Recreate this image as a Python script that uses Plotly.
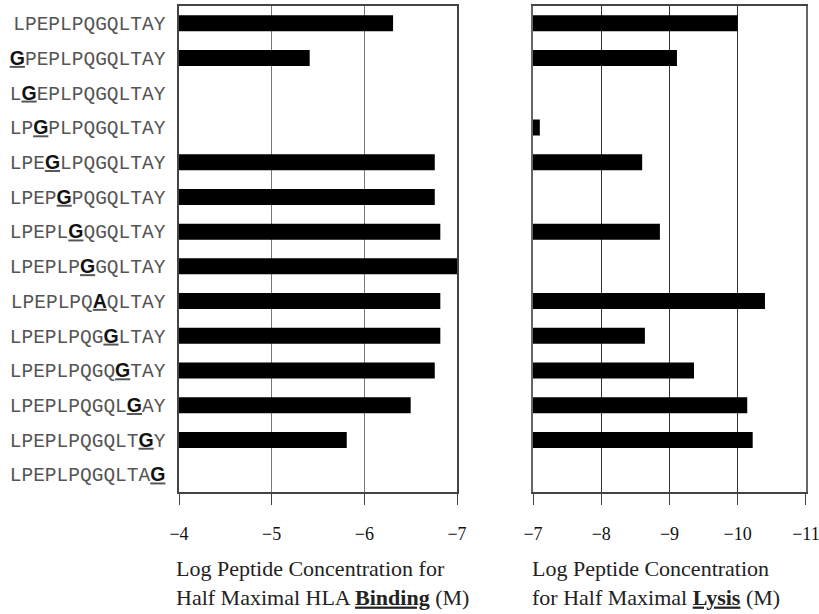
import plotly.graph_objects as go

def mut(prefix, letter, suffix):
    return (prefix + "<b><u><span style='font-family:Liberation Sans;color:#111'>"
            + letter + "</span></u></b>" + suffix)

peptides = [
    "LPEPLPQGQLTAY",
    mut("", "G", "PEPLPQGQLTAY"),
    mut("L", "G", "EPLPQGQLTAY"),
    mut("LP", "G", "PLPQGQLTAY"),
    mut("LPE", "G", "LPQGQLTAY"),
    mut("LPEP", "G", "PQGQLTAY"),
    mut("LPEPL", "G", "QGQLTAY"),
    mut("LPEPLP", "G", "GQLTAY"),
    mut("LPEPLPQ", "A", "QLTAY"),
    mut("LPEPLPQG", "G", "LTAY"),
    mut("LPEPLPQGQ", "G", "TAY"),
    mut("LPEPLPQGQL", "G", "AY"),
    mut("LPEPLPQGQLT", "G", "Y"),
    mut("LPEPLPQGQLTA", "G", ""),
]

binding_log = [-6.31, -5.41, None, None, -6.76, -6.76, -6.82, -7.0,
               -6.82, -6.82, -6.76, -6.50, -5.81, None]
lysis_log = [-10.0, -9.11, None, -7.10, -8.60, None, -8.86, None,
             -10.40, -8.64, -9.36, -10.14, -10.22, None]

binding_ticks = [-4, -5, -6, -7]
lysis_ticks = [-7, -8, -9, -10, -11]

fig = go.Figure()
fig.add_trace(go.Bar(y=peptides, x=binding_log, orientation="h",
                     marker=dict(color="black", line=dict(width=0)),
                     width=0.46, xaxis="x", yaxis="y", showlegend=False))
fig.add_trace(go.Bar(y=peptides, x=lysis_log, orientation="h",
                     marker=dict(color="black", line=dict(width=0)),
                     width=0.46, xaxis="x2", yaxis="y2", showlegend=False))

tickfont = dict(family="Liberation Serif", size=18, color="#111")
xcommon = dict(showline=True, linecolor="#444", linewidth=1.5, mirror=True,
               ticks="outside", ticklen=11, tickcolor="#444", tickwidth=1.2,
               tickfont=tickfont, showgrid=True, gridwidth=1.2, zeroline=False,
               ticklabelstandoff=14, automargin=False, ticklabeloverflow="allow")

fig.update_layout(
    template="none",
    width=819, height=614,
    margin=dict(l=0, r=0, t=6, b=122, pad=0),
    paper_bgcolor="white", plot_bgcolor="white",
    xaxis=dict(domain=[0.2186, 0.558], range=[-4, -7], tickvals=binding_ticks,
               gridcolor="#777", anchor="y", **xcommon),
    xaxis2=dict(domain=[0.6508, 0.984], range=[-7, -11], tickvals=lysis_ticks,
                gridcolor="#333", anchor="y2", **xcommon),
    yaxis=dict(type="category", categoryarray=peptides, autorange="reversed",
               tickfont=dict(family="Liberation Mono", size=19.5, color="#555"),
               ticks="", ticklabelstandoff=8, showgrid=False, anchor="x",
               showline=True, linecolor="#444", linewidth=1.5, mirror=True,
               zeroline=False, automargin=False),
    yaxis2=dict(type="category", categoryarray=peptides, autorange="reversed",
                anchor="x2", showticklabels=False, ticks="", showgrid=False,
                showline=True, linecolor="#666", linewidth=1.5, mirror=True,
                zeroline=False, automargin=False),
)

titlefont = dict(family="Liberation Serif", size=22, color="#222")
fig.add_annotation(text="Log Peptide Concentration for<br>Half Maximal HLA <b><u>Binding</u></b> (M)",
                   xref="paper", yref="paper", x=0.394, y=-0.128, yanchor="top",
                   xanchor="center", showarrow=False, font=titlefont, align="left")
fig.add_annotation(text="Log Peptide Concentration<br>for Half Maximal <b><u>Lysis</u></b> (M)",
                   xref="paper", yref="paper", x=0.801, y=-0.128, yanchor="top",
                   xanchor="center", showarrow=False, font=titlefont, align="left")

fig.write_html("out.html", config={"displayModeBar": False},
               post_script="document.body.style.margin='0px';document.body.style.overflow='hidden';")
